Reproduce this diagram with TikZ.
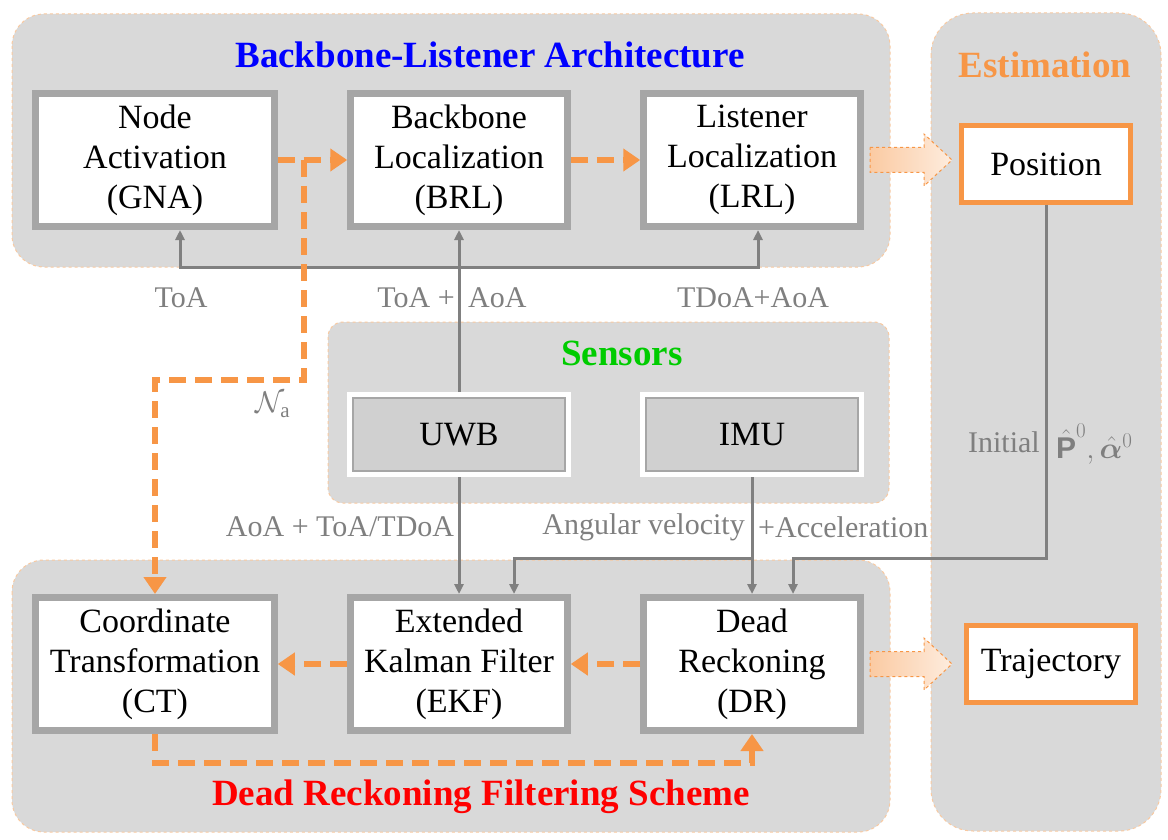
\RequirePackage{fix-cm}
\documentclass[tikz,border=0pt]{standalone}
\usepackage{amsmath,bm}
\usepackage{fontspec}
\setmainfont{Liberation Serif}
\setsansfont{Liberation Sans}
\usetikzlibrary{arrows.meta}
\definecolor{fondo}{HTML}{D9D9D9}
\definecolor{bordo}{HTML}{F9C9A0}
\definecolor{grigiobox}{HTML}{A6A6A6}
\definecolor{arancio}{HTML}{F79646}
\definecolor{grigiolinea}{HTML}{808080}
\definecolor{grigiotesto}{HTML}{7F7F7F}
\definecolor{sensore}{HTML}{D0D0D0}
\definecolor{verde}{HTML}{00CC00}
\tikzset{
  region/.style={fill=fondo,draw=bordo,dashed,line width=1pt},
  procbox/.style={draw=grigiobox,fill=white,line width=7pt,minimum height=133pt,
    align=center,inner sep=0pt,font=\rmfamily\fontsize{34}{40}\selectfont},
  outbox/.style={draw=arancio,fill=white,line width=5pt,minimum width=169pt,
    minimum height=77pt,font=\rmfamily\fontsize{34}{40}\selectfont},
  sensorbox/.style={draw=white,fill=sensore,line width=5pt,minimum width=219pt,
    minimum height=80pt,font=\rmfamily\fontsize{34}{40}\selectfont},
  titolo/.style={font=\fontsize{37}{44}\selectfont\bfseries},
  lbl/.style={text=grigiotesto,inner sep=0pt,font=\fontsize{30}{36}\selectfont},
  flow/.style={draw=arancio,line width=6pt,dash pattern=on 17pt off 9pt,
    -{Triangle[length=17pt,width=22pt]}},
  sig/.style={draw=grigiolinea,line width=3pt,-{Triangle[length=10pt,width=9pt]}},
  hollow/.style={draw=arancio,dashed,line width=1pt,left color=arancio!50,right color=arancio!18},
}
\begin{document}
\begin{tikzpicture}[x=1pt,y=-1pt]
        \useasboundingbox (0,0) rectangle (1168,840);

        %%%%%%%%% Regioni %%%%%%%%%%
        \draw[region,rounded corners=32pt] (12,14) rectangle (890,267);
        \draw[region,rounded corners=42pt] (931,13) rectangle (1161,831);
        \draw[region,rounded corners=15pt] (328,322) rectangle (889,503);
        \draw[region,rounded corners=32pt] (12,560) rectangle (890,832);

        \node[titolo,text=blue] at (490,55) {Backbone-Listener Architecture};
        \node[titolo,text=arancio] at (1045,65) {Estimation};
        \node[titolo,text=verde] at (622,353) {Sensors};
        \node[titolo,text=red] at (481,797) {Dead Reckoning Filtering Scheme};

        %%%%%%%%% Blocchi %%%%%%%%%%
        \node[procbox,minimum width=238.5pt] (gna) at (155,160) {Node\\Activation\\(GNA)};
        \node[procbox,minimum width=216.5pt] (brl) at (459,160) {Backbone\\Localization\\(BRL)};
        \node[procbox,minimum width=216.5pt] (lrl) at (752,160) {Listener\\Localization\\(LRL)};
        \node[procbox,minimum width=238.5pt] (ct) at (155,664) {Coordinate\\Transformation\\(CT)};
        \node[procbox,minimum width=216.5pt] (ekf) at (459,664) {Extended\\Kalman Filter\\(EKF)};
        \node[procbox,minimum width=216.5pt] (dr) at (752,664) {Dead\\Reckoning\\(DR)};

        \node[outbox] (pos) at (1046,164) {Position};
        \node[outbox] (traj) at (1051,664) {Trajectory};

        \node[sensorbox] (uwb) at (459,434.5) {UWB};
        \node[sensorbox] (imu) at (752,434.5) {IMU};
        \foreach \s in {uwb,imu}
            \draw[grigiobox,line width=1.5pt] ([shift={(6,6)}]\s.north west) rectangle ([shift={(-6,-6)}]\s.south east);

        %%%%%%%%% Segnali %%%%%%%%%
        \coordinate (incrocio) at (459,267);
        \coordinate (ramo) at (752,558);
        \coordinate (drin) at ([xshift=41pt]dr.north);
        \draw[sig] (uwb.north) -- (brl.south);
        \draw[sig] (incrocio) -| ([xshift=25pt]gna.south);
        \draw[sig] (incrocio) -| ([xshift=6pt]lrl.south);
        \draw[sig] (uwb.south) -- (ekf.north);
        \draw[sig] (imu.south) -- (dr.north);
        \draw[sig] (ramo) -| ([xshift=55pt]ekf.north);
        \draw[sig] (pos.south) |- (drin |- ramo) -- (drin);

        %%%%%%%%% Frecce %%%%%%%%%
        \coordinate (nodo) at (304,160);
        \coordinate (gomito) at (155,380);
        \draw[flow] (gna.east) -- (brl.west);
        \draw[flow] (brl.east) -- (lrl.west);
        \draw[flow] (nodo) |- (gomito) -- (ct.north);
        \draw[flow] (ekf.west) -- (ct.east);
        \draw[flow] (dr.west) -- (ekf.east);
        \draw[flow] (ct.south) -- ++(0,29) -| (dr.south);

        \draw[hollow] (870,147.5) -- ++(54,0) -- ++(0,-13.5) -- ++(28,26) -- ++(-28,26) -- ++(0,-13.5) -- ++(-54,0) -- cycle;
        \draw[hollow] (870,651.5) -- ++(54,0) -- ++(0,-13.5) -- ++(28,26) -- ++(-28,26) -- ++(0,-13.5) -- ++(-54,0) -- cycle;

        %%%%%%%%% Testo %%%%%%%%%%
        \node[lbl] at (181,298) {ToA};
        \node[lbl,anchor=east] at (455,298) {ToA +};
        \node[lbl,anchor=west] at (468,298) {AoA};
        \node[lbl] at (753,298) {TDoA+AoA};
        \node[lbl] at (273,405) {$\mathcal{N}_\mathrm{a}$};
        \node[lbl] at (340,527) {AoA + ToA/TDoA};
        \node[lbl,anchor=east] at (745,527) {Angular velocity};
        \node[lbl,anchor=west] at (758,527) {+Acceleration};
        \node[lbl,anchor=east] at (1040,442) {Initial};
        \node[lbl,anchor=west] at (1056,444) {$\hat{\textsf{\textbf{P}}}^0,\hat{\bm{\alpha}}^0$};
    \end{tikzpicture}
\end{document}
